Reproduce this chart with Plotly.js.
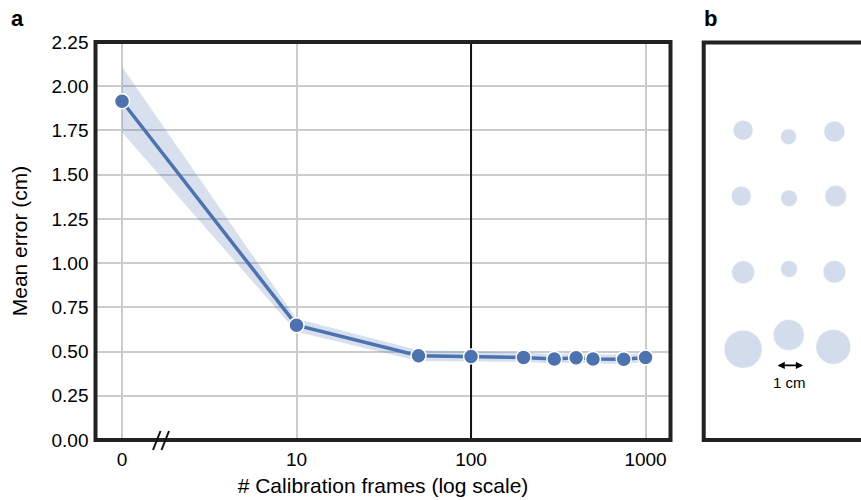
<!DOCTYPE html>
<html><head><meta charset="utf-8">
<script src="https://cdn.plot.ly/plotly-3.0.1.min.js"></script>
<style>html,body{margin:0;padding:0;background:#fff}#chart{width:861px;height:500px}</style>
</head><body><div id="chart"></div>
<script>
// ---- panel a data ----
const frames = [0, 10, 50, 100, 200, 300, 400, 500, 750, 1000];
const meanError = [1.915, 0.649, 0.476, 0.472, 0.467, 0.458, 0.465, 0.458, 0.457, 0.466];
const ciLower = [1.74, 0.612, 0.447, 0.443, 0.441, 0.433, 0.439, 0.433, 0.431, 0.441];
const ciUpper = [2.11, 0.685, 0.507, 0.502, 0.494, 0.485, 0.492, 0.485, 0.484, 0.493];
const xTickVals = [0, 10, 100, 1000];
const xTickText = ['0', '10', '100', '1000'];
const yTickVals = [0, 0.25, 0.5, 0.75, 1.0, 1.25, 1.5, 1.75, 2.0, 2.25];
const yTickText = ['0.00', '0.25', '0.50', '0.75', '1.00', '1.25', '1.50', '1.75', '2.00', '2.25'];
const yRange = [0, 2.25];
const referenceFrames = 100;

// ---- panel b data (cm) ----
const circleX = [1.46, 3.14, 4.84, 1.39, 3.16, 4.89, 1.46, 3.16, 4.84, 1.46, 3.15, 4.80];
const circleY = [3.25, 3.49, 3.30, 5.69, 5.77, 5.69, 8.51, 8.39, 8.49, 11.36, 10.83, 11.27];
const circleD = [0.74, 0.59, 0.78, 0.74, 0.62, 0.80, 0.85, 0.63, 0.84, 1.41, 1.15, 1.29];
const scaleBarX0 = 2.68, scaleBarLength = 1, scaleBarY = 11.96;
const scaleBarLabel = '1 cm';

// zero frames is drawn one decade left of 10 on the log axis
const toAxis = v => (v === 0 ? 1 : v);
const W = 861, H = 500;
const px = x => x / W, py = y => 1 - y / H;

const BLUE = '#4c72b0';
const FONT = 'Liberation Sans, Arial, Helvetica, sans-serif';
const xs = frames.map(toAxis);

const traces = [
  {x: xs, y: ciLower, mode: 'lines', line: {width: 0, color: 'rgba(0,0,0,0)'}, hoverinfo: 'skip', showlegend: false, xaxis: 'x', yaxis: 'y'},
  {x: xs, y: ciUpper, mode: 'lines', line: {width: 0, color: 'rgba(0,0,0,0)'}, fill: 'tonexty', fillcolor: 'rgba(76,114,176,0.22)', hoverinfo: 'skip', showlegend: false, xaxis: 'x', yaxis: 'y'},
  {x: [referenceFrames, referenceFrames], y: yRange, mode: 'lines', line: {width: 2, color: '#111'}, hoverinfo: 'skip', showlegend: false, xaxis: 'x', yaxis: 'y'},
  {x: xs, y: meanError, mode: 'lines+markers', line: {width: 3.5, color: BLUE},
   marker: {size: 15, color: BLUE, line: {color: '#ffffff', width: 1.5}}, showlegend: false, cliponaxis: false, xaxis: 'x', yaxis: 'y'}
];

const shapes = [
  {type: 'rect', xref: 'paper', yref: 'paper', x0: px(95.5), x1: px(670.5), y0: py(440), y1: py(42), line: {color: '#222', width: 4}, layer: 'above'},
  {type: 'line', xref: 'paper', yref: 'paper', x0: px(153), y0: py(450), x1: px(160.5), y1: py(431), line: {color: '#111', width: 2}},
  {type: 'line', xref: 'paper', yref: 'paper', x0: px(161.5), y0: py(450), x1: px(169), y1: py(431), line: {color: '#111', width: 2}},
  {type: 'rect', xref: 'paper', yref: 'paper', x0: px(703.7), x1: 1.1, y0: py(440), y1: py(42.5), line: {color: '#222', width: 4}, layer: 'above'}
];
circleX.forEach((cx, i) => {
  const r = circleD[i] / 2;
  shapes.push({type: 'circle', xref: 'x2', yref: 'y2', x0: cx - r, x1: cx + r, y0: circleY[i] - r, y1: circleY[i] + r,
    fillcolor: 'rgba(76,114,176,0.25)', line: {color: 'rgba(255,255,255,0.6)', width: 1}});
});

const annotations = [
  {text: '<b>a</b>', xref: 'paper', yref: 'paper', x: px(9), y: py(18), xanchor: 'left', yanchor: 'middle', showarrow: false, font: {size: 22, color: '#000', family: FONT}},
  {text: '<b>b</b>', xref: 'paper', yref: 'paper', x: px(702), y: py(18), xanchor: 'left', yanchor: 'middle', showarrow: false, font: {size: 22, color: '#000', family: FONT}},
  {text: '', xref: 'x2', yref: 'y2', axref: 'x2', ayref: 'y2', x: scaleBarX0 + scaleBarLength, y: scaleBarY, ax: scaleBarX0, ay: scaleBarY,
   showarrow: true, arrowside: 'end+start', arrowhead: 2, arrowsize: 0.8, arrowwidth: 1.8, arrowcolor: '#000', standoff: 0, startstandoff: 0},
  {text: scaleBarLabel, xref: 'x2', yref: 'y2', x: scaleBarX0 + scaleBarLength / 2, y: scaleBarY + 0.62, showarrow: false, font: {size: 15, color: '#000', family: FONT}}
];

const layout = {
  width: W, height: H,
  margin: {l: 0, r: 0, t: 0, b: 0},
  paper_bgcolor: '#fff', plot_bgcolor: '#fff',
  font: {family: FONT, color: '#000', size: 19},
  showlegend: false,
  xaxis: {domain: [px(95.5), px(670.5)], type: 'log', range: [-0.152, 3.143],
    tickvals: xTickVals.map(toAxis), ticktext: xTickText, showgrid: true, gridcolor: '#cccccc', gridwidth: 2,
    zeroline: false, showline: false, ticks: '', tickfont: {size: 19}, ticklabelstandoff: 6,
    title: {text: '# Calibration frames (log scale)', font: {size: 21}, standoff: 9}},
  yaxis: {domain: [py(440), py(42)], range: yRange, tickvals: yTickVals, ticktext: yTickText,
    showgrid: true, gridcolor: '#cccccc', gridwidth: 2, zeroline: false, showline: false, ticks: '',
    tickfont: {size: 19}, ticklabelstandoff: 6,
    title: {text: 'Mean error (cm)', font: {size: 21}, standoff: 18}},
  xaxis2: {domain: [px(703.7), 1], range: [0, (W - 703.7) / 27], visible: false, anchor: 'y2'},
  yaxis2: {domain: [py(440), py(42.5)], range: [(440 - 42.5) / 27, 0], visible: false, anchor: 'x2'},
  shapes: shapes,
  annotations: annotations
};

Plotly.newPlot('chart', traces, layout, {displayModeBar: false, staticPlot: true});
</script>
</body></html>
